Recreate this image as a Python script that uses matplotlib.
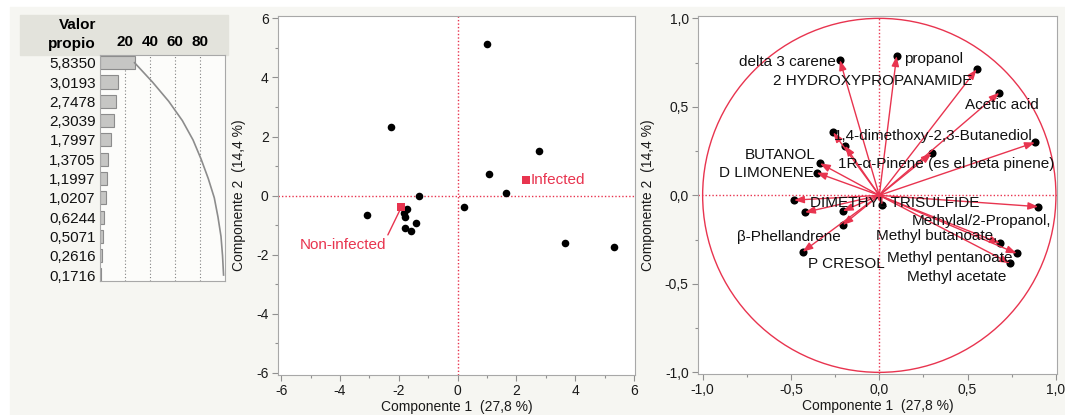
import numpy as np
import matplotlib
matplotlib.use("Agg")
import matplotlib.pyplot as plt
from matplotlib.patches import Rectangle, Circle
from matplotlib.ticker import FixedLocator, MultipleLocator

plt.rcParams['font.family'] = ['Liberation Sans', 'DejaVu Sans']

# eigenvalue table (Valor propio)
eigenvalues = [5.8350, 3.0193, 2.7478, 2.3039, 1.7997, 1.3705,
               1.1997, 1.0207, 0.6244, 0.5071, 0.2616, 0.1716]
eig_labels = ["5,8350", "3,0193", "2,7478", "2,3039", "1,7997", "1,3705",
              "1,1997", "1,0207", "0,6244", "0,5071", "0,2616", "0,1716"]
n_vars = 21

# score plot
score_x = [0.985, -2.28, 2.77, 1.06, 1.64, -1.31, 0.20, -3.07, -1.73,
           -1.82, -1.79, -1.42, -1.80, -1.60, 3.64, 5.31]
score_y = [5.12, 2.32, 1.52, 0.73, 0.09, -0.01, -0.37, -0.67, -0.44,
           -0.59, -0.73, -0.92, -1.10, -1.21, -1.60, -1.73]
group_names = ["Infected", "Non-infected"]
group_x = [2.31, -1.94]
group_y = [0.52, -0.40]

# loading plot
load_x = [-0.223, 0.098, 0.551, 0.679, 0.881, -0.261, -0.194, 0.296, -0.336, -0.355,
          -0.483, -0.421, -0.207, 0.017, 0.900, -0.207, -0.434, 0.683, 0.778, 0.740]
load_y = [0.764, 0.787, 0.712, 0.580, 0.299, 0.356, 0.280, 0.237, 0.181, 0.128,
          -0.027, -0.096, -0.089, -0.055, -0.064, -0.168, -0.319, -0.271, -0.328, -0.384]
# label text, x, y, alignment
load_labels = [
    ("delta 3 carene", -0.245, 0.751, 'right'),
    ("propanol", 0.141, 0.770, 'left'),
    ("2 HYDROXYPROPANAMIDE", 0.529, 0.646, 'right'),
    ("Acetic acid", 0.900, 0.510, 'right'),
    ("1,4-dimethoxy-2,3-Butanediol", 0.868, 0.337, 'right'),
    ("1R-\u03b1-Pinene (es el beta pinene)", 0.990, 0.177, 'right'),
    ("BUTANOL", -0.362, 0.228, 'right'),
    ("D LIMONENE", -0.368, 0.124, 'right'),
    ("DIMETHYL TRISULFIDE", -0.390, -0.045, 'left'),
    ("Methylal/2-Propanol,", 0.972, -0.145, 'right'),
    ("Methyl butanoate,", 0.666, -0.230, 'right'),
    ("\u03b2-Phellandrene", -0.221, -0.237, 'right'),
    ("Methyl pentanoate", 0.755, -0.352, 'right'),
    ("P CRESOL", -0.402, -0.388, 'left'),
    ("Methyl acetate", 0.721, -0.460, 'right'),
]

RED = '#e8344f'
SPINE = '#a8a8a8'
W, H = 1065, 415


def fbox(x0, y0, x1, y1):
    # pixel box (top-left origin) -> figure fraction rect
    return [x0 / W, (H - y1) / H, (x1 - x0) / W, (y1 - y0) / H]


fig = plt.figure(figsize=(W / 100, H / 100), dpi=100, facecolor='white')
fig.patches.append(Rectangle((10 / W, 0), 1, (H - 7) / H, transform=fig.transFigure,
                             color='#f6f6f2', zorder=-10))
fig.patches.append(Rectangle((20 / W, (H - 55) / H), 208 / W, 40 / H, transform=fig.transFigure,
                             color='#e3e3dc', zorder=-9))

# ---- left: eigenvalue bars ----
ax0 = fig.add_axes(fbox(100, 55, 225, 281))
pct = np.array(eigenvalues) / n_vars * 100
cum = np.cumsum(pct)
rows = np.arange(len(eigenvalues))
ax0.set_facecolor('#fcfcfa')
ax0.barh(rows, pct, height=0.68, color='#c6c6c4', edgecolor='#8c8c8c', lw=0.8, zorder=2)
ax0.plot(cum, rows, color='#8c8c8c', lw=1.2, zorder=3)
ax0.set_xlim(0, 100.5)
ax0.set_ylim(11.31, -0.4)
ax0.xaxis.tick_top()
ax0.set_xticks([20, 40, 60, 80])
ax0.set_xticklabels(["20", "40", "60", "80"], fontweight='bold', fontsize=11)
ax0.set_yticks(rows)
ax0.set_yticklabels(eig_labels, fontsize=11, color='#111111')
ax0.tick_params(length=0, pad=3)
ax0.tick_params(axis='x', pad=4)
ax0.xaxis.grid(True, ls=(0, (1, 2)), color='#808080', lw=0.8, zorder=1)
for s in ax0.spines.values():
    s.set_color(SPINE)
fig.text(96 / W, (H - 25) / H, "Valor", ha='right', va='center', fontsize=11, fontweight='bold')
fig.text(96 / W, (H - 44) / H, "propio", ha='right', va='center', fontsize=11, fontweight='bold')


def style(ax):
    ax.set_facecolor('white')
    for s in ax.spines.values():
        s.set_color(SPINE)
    ax.tick_params(which='major', direction='out', length=4.5, width=0.8, color='#909090',
                   labelsize=10, pad=2, labelcolor='#1a1a1a')
    ax.tick_params(which='minor', direction='out', length=2.5, width=0.8, color='#909090')


# ---- middle: score plot ----
ax1 = fig.add_axes(fbox(277.7, 15.7, 635, 375))
style(ax1)
ax1.set_xlim(-6.12, 6.03)
ax1.set_ylim(-6.07, 6.09)
ticks = [-6, -4, -2, 0, 2, 4, 6]
ax1.xaxis.set_major_locator(FixedLocator(ticks))
ax1.yaxis.set_major_locator(FixedLocator(ticks))
ax1.set_xticklabels([str(t) for t in ticks])
ax1.set_yticklabels([str(t) for t in ticks])
ax1.xaxis.set_minor_locator(MultipleLocator(1))
ax1.yaxis.set_minor_locator(MultipleLocator(1))
ax1.axhline(0, color=RED, ls=(0, (1, 1.5)), lw=1, zorder=1)
ax1.axvline(0, color=RED, ls=(0, (1, 1.5)), lw=1, zorder=1)
ax1.scatter(score_x, score_y, s=30, color='black', zorder=3, linewidths=0)
ax1.scatter(group_x, group_y, s=32, marker='s', color=RED, zorder=4, linewidths=0)
ax1.text(group_x[0] + 0.18, group_y[0], group_names[0], color=RED, fontsize=11,
         ha='left', va='center')
ax1.annotate(group_names[1], xy=(group_x[1] - 0.02, group_y[1] - 0.08), xytext=(-2.42, -1.66),
             color=RED, fontsize=11, ha='right', va='center',
             arrowprops=dict(arrowstyle='-', color=RED, lw=1, shrinkA=0, shrinkB=0,
                             relpos=(1, 1)))
ax1.set_xlabel("Componente 1  (27,8 %)", fontsize=10, labelpad=1.5, color='#1a1a1a')
ax1.set_ylabel("Componente 2  (14,4 %)", fontsize=10, labelpad=7, color='#1a1a1a')

# ---- right: loading plot ----
ax2 = fig.add_axes(fbox(697.7, 15.7, 1057, 374.3))
style(ax2)
ax2.set_xlim(-1.028, 1.006)
ax2.set_ylim(-1.011, 1.015)
lt = [-1.0, -0.5, 0.0, 0.5, 1.0]
lt_lab = ["-1,0", "-0,5", "0,0", "0,5", "1,0"]
ax2.xaxis.set_major_locator(FixedLocator(lt))
ax2.yaxis.set_major_locator(FixedLocator(lt))
ax2.set_xticklabels(lt_lab)
ax2.set_yticklabels(lt_lab)
ax2.xaxis.set_minor_locator(MultipleLocator(0.25))
ax2.yaxis.set_minor_locator(MultipleLocator(0.25))
ax2.axhline(0, color=RED, ls=(0, (1, 1.5)), lw=1, zorder=1)
ax2.axvline(0, color=RED, ls=(0, (1, 1.5)), lw=1, zorder=1)
ax2.add_patch(Circle((0, 0), 1.0, fill=False, color=RED, lw=1, zorder=2))
ax2.scatter(load_x, load_y, s=34, color='black', zorder=3, linewidths=0)
for x, y in zip(load_x, load_y):
    ax2.annotate('', xy=(x, y), xytext=(0, 0), zorder=4,
                 arrowprops=dict(arrowstyle='-|>,head_length=0.6,head_width=0.22',
                                 color=RED, lw=1, shrinkA=0, shrinkB=0))
for txt, x, y, ha in load_labels:
    ax2.text(x, y, txt, fontsize=11, ha=ha, va='center', color='#111111', zorder=5)
ax2.set_xlabel("Componente 1  (27,8 %)", fontsize=10, labelpad=1.5, color='#1a1a1a')
ax2.set_ylabel("Componente 2  (14,4 %)", fontsize=10, labelpad=7, color='#1a1a1a')

fig.savefig("out.png", dpi=100)
